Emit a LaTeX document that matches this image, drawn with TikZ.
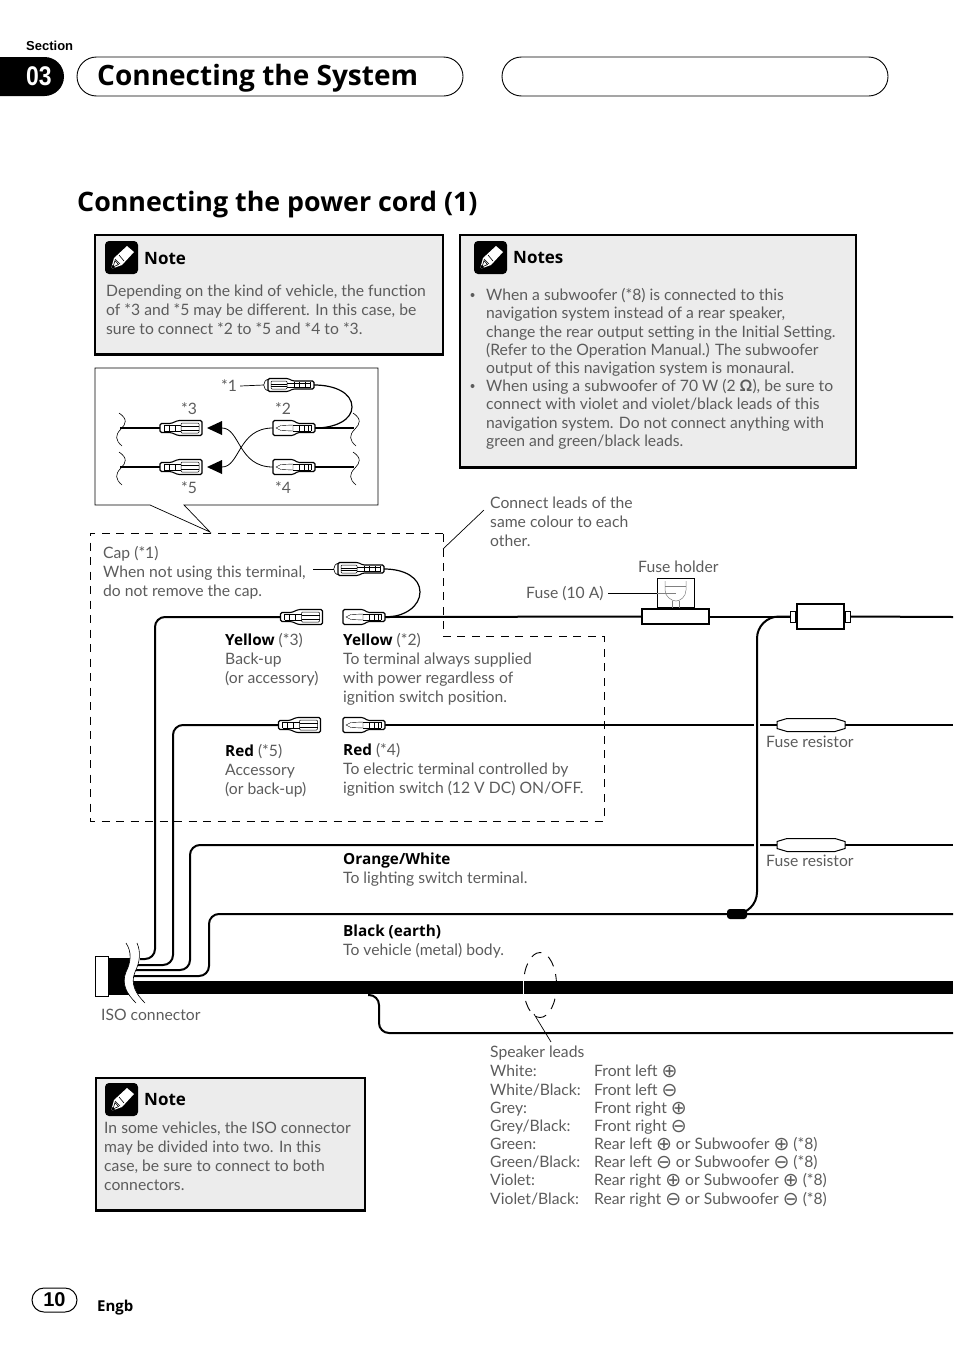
\documentclass[tikz,border=0pt]{standalone}
\usepackage{fontspec}
\setmainfont{Lato}
\newfontfamily\headfont{Open Sans}
\newfontfamily\helv{Liberation Sans}
\newfontfamily\symfont{DejaVu Sans}
\usetikzlibrary{positioning}
\definecolor{txtgray}{HTML}{5C5C5C}
\definecolor{boxgray}{HTML}{ECECEC}
\newcommand{\cplus}{{\symfont\fontsize{19}{19}\selectfont\raisebox{-1pt}{\char"2295}}}
\newcommand{\cminus}{{\symfont\fontsize{19}{19}\selectfont\raisebox{-1pt}{\char"2296}}}
\newcommand{\lead}[1]{\textcolor{black}{\headfont\bfseries\fontsize{15.3}{19}\selectfont #1}}
\tikzset{
    txt/.style={anchor=north west, align=left, inner sep=0pt, text=txtgray, font=\fontsize{15.7}{19}\selectfont},
    tight/.style={font=\fontsize{15.7}{18.1}\selectfont},
    head/.style={anchor=west, inner sep=0pt, font=\headfont\bfseries\fontsize{28}{30}\selectfont},
    notehead/.style={anchor=west, inner sep=0pt, font=\headfont\bfseries\fontsize{17}{20}\selectfont},
    capsule/.style={draw, line width=0.9pt, rounded corners=19.5pt, minimum height=39pt, inner sep=0pt},
    notebox/.style={draw, fill=boxgray, line width=1.3pt, inner sep=0pt},
    plug/.style={inner sep=0pt, minimum width=42pt, minimum height=14pt},
    wire/.style={line width=2pt, rounded corners=10pt},
    thinwire/.style={line width=1.2pt},
    leader/.style={line width=0.7pt},
    dash box/.style={line width=0.9pt, dash pattern=on 8pt off 6.5pt},
    malepic/.pic={
        \draw[line width=1.1pt, fill=white, rounded corners=1.5pt] (-21,-7.5) -- (-1,-7.5) -- (4,-4.5) -- (21,-4.5)
            -- (21,4.5) -- (4,4.5) -- (-1,7.5) -- (-21,7.5) -- cycle;
        \draw[line width=0.4pt] (-18,0) -- (-13,-2.5) -- (-1,-3) -- (-1,3) -- (-13,2.5) -- cycle;
        \draw[line width=0.4pt] (-1,-3) -- (17,-3) (-1,3) -- (17,3);
        \foreach \p in {5,10,14,17} {\draw[line width=0.5pt] (\p,-3) -- (\p,3);}
    },
    femalepic/.pic={
        \draw[line width=1.1pt, fill=white, rounded corners=1.5pt] (21,-7.5) -- (-3,-7.5) -- (-10,-4.5) -- (-21,-4.5)
            -- (-21,4.5) -- (-10,4.5) -- (-3,7.5) -- (21,7.5) -- cycle;
        \draw[line width=0.5pt, rounded corners=1pt] (0,-5) rectangle (18,5);
        \draw[line width=0.5pt] (0,-2) -- (18,-2) (0,2) -- (18,2);
        \foreach \p in {-17,-12,-6} {\draw[line width=0.5pt] (\p,-3) -- (\p,3);}
        \draw[line width=0.4pt] (-17,-3) -- (0,-3) (-17,3) -- (0,3);
    },
    cappic/.pic={
        \draw[line width=0.6pt, fill=white] (-20,-6) .. controls (-27,-5) and (-27,5) .. (-20,6);
        \draw[line width=1.1pt, fill=white, rounded corners=1.5pt] (-21,-6.5) -- (-1,-6.5) -- (4,-4) -- (25,-4)
            -- (25,4) -- (4,4) -- (-1,6.5) -- (-21,6.5) -- cycle;
        \draw[line width=0.5pt, rounded corners=1pt] (-18,-4) rectangle (-2,4);
        \draw[line width=0.5pt] (-18,-1) -- (-2,-1) (-18,1) -- (-2,1);
        \foreach \p in {5,10,16,21} {\draw[line width=0.5pt] (\p,-3) -- (\p,3);}
        \draw[line width=0.4pt] (-2,-2) -- (21,-2) (-2,2) -- (21,2);
    },
    wavypic/.pic={
        \draw[line width=0.6pt] (-1,-15) .. controls (8,-9) and (6,-4) .. (1,1) .. controls (-5,7) and (-5,12) .. (2,18);
    },
    iconpic/.pic={
        \fill[rounded corners=4pt] (0,0) rectangle (33,33);
        \fill[white] (6,28) -- (9,17) -- (22,5) -- (29,11) -- (17,24) -- cycle;
        \draw[line width=0.6pt] (10,18) -- (15,23) (14,14) -- (19,20);
        \draw[line width=0.6pt] (8,26) -- (10,19.5) -- (13.5,23.5) -- cycle;
        \fill (6,28) -- (7.2,24) -- (10,26.8) -- cycle;
    },
    resistorpic/.pic={
        \draw[line width=1pt, fill=white] (-34,-3.5) -- (-24,-6.5) -- (24,-6.5) -- (34,-3.5) -- (34,3.5) -- (24,6.5) -- (-24,6.5) -- (-34,3.5) -- cycle;
    },
}
\begin{document}
\begin{tikzpicture}[x=1pt, y=-1pt]
    \useasboundingbox (0,0) rectangle (954,1352);

    \node[anchor=west, inner sep=0pt, font=\helv\bfseries\fontsize{13}{15}\selectfont] (sect) at (26,46) {Section};
    \fill (0,57) -- (44.5,57) arc [start angle=90, end angle=-90, radius=19.5pt] -- (0,96) -- cycle;
    \node[inner sep=0pt, text=white, font=\helv\bfseries\fontsize{27}{29}\selectfont, xscale=0.85] (num) at (39,76) {03};
    \node[capsule, minimum width=386pt] (cap1) at (270,76.5) {};
    \node[capsule, minimum width=386pt] (cap2) at (695,76.5) {};
    \node[head] (title) at (97,78) {Connecting the System};
    \node[head, font=\headfont\bfseries\fontsize{26.8}{30}\selectfont] (title2) at (77,205) {Connecting the power cord (1)};

    \node[notebox, minimum width=348pt, minimum height=119pt] (n1) at (269,294.5) {};
    \draw[line width=2.6pt] (n1.south west) -- (n1.south east);
    \pic at (105,241) {iconpic};
    \node[notehead] (n1h) at (144,259) {Note};
    \node[txt] (n1t) at (106,285) {Depending on the kind of vehicle, the function\\of *3 and *5 may be different. In this case, be\\sure to connect *2 to *5 and *4 to *3.};

    \node[notebox, minimum width=396pt, minimum height=232pt] (n2) at (658,351) {};
    \draw[line width=2.6pt] (n2.south west) -- (n2.south east);
    \pic at (474,241) {iconpic};
    \node[notehead] (n2h) at (513,258) {Notes};
    \node[txt, tight] (n2a) at (486,288.5) {When a subwoofer (*8) is connected to this\\navigation system instead of a rear speaker,\\change the rear output setting in the Initial Setting.\\(Refer to the Operation Manual.) The subwoofer\\output of this navigation system is monaural.};
    \node[txt, tight] (n2b) at (486,379.5) {When using a subwoofer of 70 W (2 \textbf{Ω}), be sure to\\connect with violet and violet/black leads of this\\navigation system. Do not connect anything with\\green and green/black leads.};
    \foreach \y in {295,386} {\fill[txtgray] (472.5,\y) circle [radius=2pt];}

    \node[notebox, minimum width=269pt, minimum height=132pt] (n3) at (230.5,1144) {};
    \draw[line width=2pt] (n3.south west) -- (n3.south east);
    \pic at (105,1083) {iconpic};
    \node[notehead] (n3h) at (144,1100) {Note};
    \node[txt] (n3t) at (104,1122) {In some vehicles, the ISO connector\\may be divided into two. In this\\case, be sure to connect to both\\connectors.};

    % inset
    \draw[line width=0.7pt] (95,368) -- (378,368) -- (378,505) -- (184,505) -- (210,532) -- (150,505) -- (95,505) -- cycle;
    \foreach \n/\t/\x/\y in {s1/*1/229/386, s2/*2/283/409, s3/*3/189/409, s4/*4/283/488, s5/*5/189/488} {
        \node[inner sep=0pt, text=txtgray, font=\fontsize{15.7}{18}\selectfont] (\n) at (\x,\y) {\t};
    }
    \foreach \n/\x/\y in {a3/181/428, a5/181/467} {
        \node[plug] (\n) at (\x,\y) {};
        \pic at (\n) {femalepic};
    }
    \foreach \n/\x/\y in {a2/294/428, a4/294/467} {
        \node[plug] (\n) at (\x,\y) {};
        \pic at (\n) {malepic};
    }
    \node[plug, minimum width=50pt] (a1) at (289,385) {};
    \pic at (a1) {cappic};
    \coordinate (e3) at (120,428);
    \coordinate (e5) at (120,467);
    \coordinate (e2) at (354,428);
    \coordinate (e4) at (354,467);
    \draw[line width=2pt] (a3.west) -- (e3);
    \draw[line width=2pt] (a2.east) -- (e2);
    \draw[thinwire] (a5.west) -- (e5);
    \draw[thinwire] (a4.east) -- (e4);
    \foreach \n in {e3,e5,e2,e4} {\pic at (\n) {wavypic};}
    \draw[thinwire] (a1.east) .. controls (335,385) and (352,393) .. (352,407) .. controls (352,420) and (335,428) .. (a2.east);
    \coordinate (t3) at (207,428);
    \coordinate (t5) at (207,467);
    \coordinate (b3) at (222,428);
    \coordinate (b5) at (222,467);
    \fill (t3) -- (222,421) -- (222,435) -- cycle;
    \fill (t5) -- (222,460) -- (222,474) -- cycle;
    \draw[line width=0.8pt] (b3) .. controls (240,428) and (238,467) .. (a4.west);
    \draw[line width=0.8pt] (b5) .. controls (240,467) and (238,428) .. (a2.west);
    \draw[leader] (s1.east) ++(3,0) -- (a1.west);

    % dashed area
    \draw[dash box] (443,533) -- (90,533) -- (90,821) -- (604,821) -- (604,636) -- (443,636) -- cycle;
    \coordinate (d1) at (443,549);
    \coordinate (d2) at (484,510);
    \draw[leader] (d1) -- (d2);
    \node[txt] (conn) at (490,497) {Connect leads of the\\same colour to each\\other.};
    \node[txt] (hold) at (638,561) {Fuse holder};
    \node[txt] (fuse) at (526,586) {Fuse (10 A)};
    \node[txt] (cap) at (103,546) {Cap (*1)\\When not using this terminal,\\do not remove the cap.};
    \node[txt] (y3) at (225,633) {\lead{Yellow} (*3)\\Back-up\\(or accessory)};
    \node[txt] (y2) at (343,633) {\lead{Yellow} (*2)\\To terminal always supplied\\with power regardless of\\ignition switch position.};
    \node[txt] (r5) at (225,744) {\lead{Red} (*5)\\Accessory\\(or back-up)};
    \node[txt] (r4) at (343,743) {\lead{Red} (*4)\\To electric terminal controlled by\\ignition switch (12 V DC) ON/OFF.};
    \node[txt] (or) at (343,853) {\lead{Orange/White}\\To lighting switch terminal.};
    \node[txt] (bl) at (343,925) {\lead{Black (earth)}\\To vehicle (metal) body.};
    \node[txt] (iso) at (101,1009) {ISO connector};
    \node[txt] (fr1) at (766,736) {Fuse resistor};
    \node[txt] (fr2) at (766,855) {Fuse resistor};

    % plugs and wires
    \foreach \n/\x/\y in {c3/301.5/617, c5/299.5/725} {
        \node[plug] (\n) at (\x,\y) {};
    }
    \foreach \n/\x/\y in {c2/364/617, c4/364/725} {
        \node[plug] (\n) at (\x,\y) {};
    }
    \node[plug, minimum width=50pt] (c1) at (359,569) {};
    \node[inner sep=0pt, minimum width=67pt, minimum height=15pt, draw, line width=1.3pt, fill=white] (holder) at (675.5,616.5) {};
    \node[inner sep=0pt, minimum width=47pt, minimum height=25pt, draw, line width=1.3pt, fill=white] (fbox) at (820.5,616.5) {};
    \node[inner sep=0pt, minimum width=5pt, minimum height=11pt, draw, line width=0.9pt, left=0pt of fbox] (tabl) {};
    \node[inner sep=0pt, minimum width=5pt, minimum height=11pt, draw, line width=0.9pt, right=0pt of fbox] (tabr) {};

    \foreach \n/\x/\y in {i1/140/959, i2/138/965, i3/135/970, i4/133/976, yr/953/617, rr/953/725, orr/953/845, blr/953/914, lo/953/1033, j1/757/700, j2/757/880} {
        \coordinate (\n) at (\x,\y);
    }
    \node[inner sep=0pt, minimum width=68pt, minimum height=13pt] (fr1b) at (811,725) {};
    \node[inner sep=0pt, minimum width=68pt, minimum height=13pt] (fr2b) at (811,845) {};
    \node[fill, rounded corners=3pt, inner sep=0pt, minimum width=20pt, minimum height=10pt] (blob) at (737,914) {};

    \draw[wire] (c3.west) -- (155,617) |- (i1);
    \draw[wire] (c5.west) -- (173,725) |- (i2);
    \draw[wire] (fr2b.west) -- (190,845) |- (i3);
    \draw[wire] (blr) -- (209,914) |- (i4);
    \draw[wire] (c2.east) -- (holder.west);
    \draw[wire] (holder.east) -- (tabl.west);
    \draw[wire] (tabr.east) -- (yr);
    \draw[wire] (c4.east) -- (fr1b.west);
    \draw[wire] (fr1b.east) -- (rr);
    \draw[wire] (fr2b.east) -- (orr);
    \foreach \n/\t in {c3/femalepic, c5/femalepic, c2/malepic, c4/malepic} {\pic at (\n) {\t};}
    \pic at (c1) {cappic};
    \pic at (fr1b) {resistorpic};
    \pic at (fr2b) {resistorpic};
    \draw[thinwire] (c1.east) .. controls (405,569) and (420,578) .. (420,592) .. controls (420,606) and (405,617) .. (c2.east);
    \draw[leader] (313,569) -- (c1.west);

    \draw[white, line width=6pt] (j1) -- (j2);
    \draw[wire, rounded corners=22pt] (tabl.west) -| (757,914) -- (blob.east);

    % fuse holder top
    \node[inner sep=0pt, minimum width=37pt, minimum height=29pt, draw, line width=1pt, fill=white, above=0pt of holder] (htop) {};
    \draw[gray, line width=0.5pt] (665,581) -- (665,590) .. controls (665,597) and (672,601) .. (676,601) .. controls (680,601) and (686,597) .. (686,590) -- (686,581);
    \draw[gray, line width=0.5pt] (665,586) -- (686,586) (672.5,601) -- (672.5,608) (679.5,601) -- (679.5,608);
    \coordinate (fl) at (608,593);
    \coordinate (fe) at (676,593);
    \draw[leader] (fl) -- (htop.west |- fl);
    \draw[gray, line width=0.7pt] (htop.west |- fl) -- (fe);

    % iso connector and cable
    \fill (108,958) rectangle (131,995);
    \fill (131,981) rectangle (953,994);
    \node[draw, fill=white, line width=0.9pt, inner sep=0pt, minimum width=13pt, minimum height=40pt] (isob) at (101.5,976) {};
    \fill[white] (126,943) .. controls (132,952) and (131,962) .. (126,972) .. controls (121,984) and (127,994) .. (136,1003)
        -- (145,1003) .. controls (136,994) and (130,984) .. (135,972) .. controls (140,962) and (141,952) .. (137,943) -- cycle;
    \draw[line width=0.6pt] (126,943) .. controls (132,952) and (131,962) .. (126,972) .. controls (121,984) and (127,994) .. (136,1003);
    \draw[line width=0.6pt] (137,943) .. controls (141,952) and (140,962) .. (135,972) .. controls (130,984) and (136,994) .. (145,1003);
    \draw[wire, rounded corners=10pt] (lo) -- (379,1033) |- (368,995);

    % speaker leads
    \node[circle, minimum size=6pt, inner sep=0pt] (spk) at (540,985) {};
    \draw[line width=0.9pt, dash pattern=on 11pt off 8pt] (spk) ellipse [x radius=16.5pt, y radius=32.5pt];
    \draw[white, line width=0.9pt] (523.5,981) -- (523.5,994);
    \coordinate (s1a) at (534,1014);
    \coordinate (s1b) at (551,1042);
    \draw[leader] (s1a) -- (s1b);
    \node[txt] (leads) at (490,1046) {Speaker leads};
    \foreach \y/\a/\b in {1070/White:/{Front left \cplus}, 1089/{White/Black:}/{Front left \cminus},
        1107/Grey:/{Front right \cplus}, 1125/{Grey/Black:}/{Front right \cminus},
        1143/Green:/{Rear left \cplus{} or Subwoofer \cplus{} (*8)}, 1161/{Green/Black:}/{Rear left \cminus{} or Subwoofer \cminus{} (*8)},
        1179/Violet:/{Rear right \cplus{} or Subwoofer \cplus{} (*8)}, 1198/{Violet/Black:}/{Rear right \cminus{} or Subwoofer \cminus{} (*8)}} {
        \node[txt, anchor=base west] (la\y) at (490,\y+6) {\a};
        \node[txt, anchor=base west] (lb\y) at (594,\y+6) {\b};
    }

    \node[capsule, minimum width=45pt, minimum height=24pt, rounded corners=12pt, line width=1pt] (page) at (54.5,1300) {};
    \node[inner sep=0pt, font=\helv\bfseries\fontsize{20}{22}\selectfont] (pnum) at (54.5,1300) {10};
    \node[anchor=west, inner sep=0pt, font=\headfont\bfseries\fontsize{15}{18}\selectfont] (engb) at (97,1308) {Engb};
\end{tikzpicture}
\end{document}
